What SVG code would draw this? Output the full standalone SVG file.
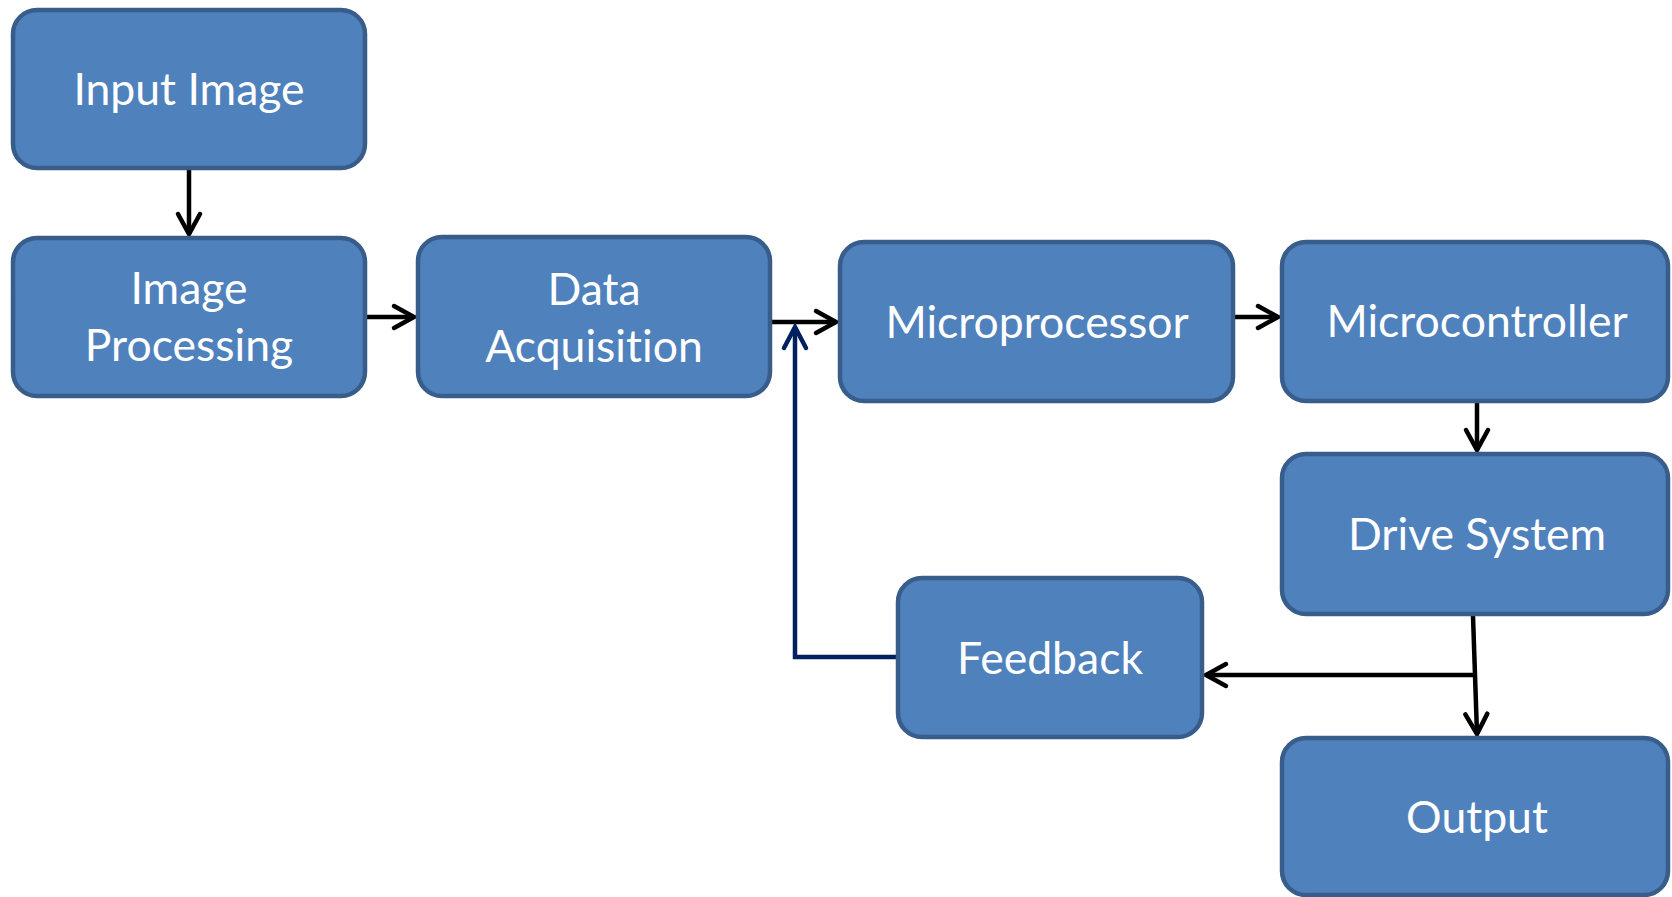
<svg xmlns="http://www.w3.org/2000/svg" width="1672" height="897" viewBox="0 0 1672 897">
<style>
.box{fill:#4F81BD;stroke:#385D8A;stroke-width:4.5}
.lbl{font-family:Lato,"Open Sans","Liberation Sans",sans-serif;font-size:44.5px;fill:#FFFFFF;text-anchor:middle;font-variant-ligatures:none;font-feature-settings:"liga" 0}
.con{fill:none;stroke:#000000;stroke-width:4.5}
.fb{fill:none;stroke:#002060;stroke-width:4.5;stroke-linejoin:miter}
</style>
<defs>
<marker id="ah" markerUnits="userSpaceOnUse" markerWidth="30" markerHeight="30" viewBox="-24 -15 30 30" refX="0" refY="0" orient="auto" overflow="visible">
<path d="M-20,-11 L0,0 L-20,11" fill="none" stroke="#000000" stroke-width="4.5" stroke-linecap="round" stroke-linejoin="miter"/>
</marker>
<marker id="ahn" markerUnits="userSpaceOnUse" markerWidth="30" markerHeight="30" viewBox="-24 -15 30 30" refX="0" refY="0" orient="auto" overflow="visible">
<path d="M-21,-11 L0,0 L-21,11" fill="none" stroke="#002060" stroke-width="4.5" stroke-linecap="round" stroke-linejoin="miter"/>
</marker>
</defs>
<g id="connectors">
<path class="con" d="M189,170 L189,234" marker-end="url(#ah)"/>
<path class="con" d="M367,317 L414,317" marker-end="url(#ah)"/>
<path class="con" d="M772,322 L836,322" marker-end="url(#ah)"/>
<path class="con" d="M1235,317 L1278,317" marker-end="url(#ah)"/>
<path class="con" d="M1477,403 L1477,450" marker-end="url(#ah)"/>
<path class="con" d="M1473,616 L1477,734" marker-end="url(#ah)"/>
<path class="con" d="M1475,675 L1206,675" marker-end="url(#ah)"/>
<path class="fb" d="M896,657 L795,657 L795,327" marker-end="url(#ahn)"/>
</g>
<g id="input-image">
<rect class="box" x="13" y="10" width="352" height="158" rx="24"/>
<text class="lbl" x="189" y="105">Input Image</text>
</g>
<g id="image-processing">
<rect class="box" x="13" y="238" width="352" height="158" rx="24"/>
<text class="lbl" x="189" y="304">Image</text>
<text class="lbl" x="189" y="361">Processing</text>
</g>
<g id="data-acquisition">
<rect class="box" x="418" y="237" width="352" height="159" rx="24"/>
<text class="lbl" x="594" y="305">Data</text>
<text class="lbl" x="594" y="362">Acquisition</text>
</g>
<g id="microprocessor">
<rect class="box" x="840" y="242" width="393" height="159" rx="24"/>
<text class="lbl" x="1037" y="338">Microprocessor</text>
</g>
<g id="microcontroller">
<rect class="box" x="1282" y="242" width="386" height="159" rx="24"/>
<text class="lbl" x="1477" y="337">Microcontroller</text>
</g>
<g id="drive-system">
<rect class="box" x="1282" y="454" width="386" height="160" rx="24"/>
<text class="lbl" x="1477" y="550">Drive System</text>
</g>
<g id="feedback">
<rect class="box" x="898" y="578" width="304" height="159" rx="24"/>
<text class="lbl" x="1050" y="674">Feedback</text>
</g>
<g id="output">
<rect class="box" x="1282" y="738" width="386" height="157" rx="24"/>
<text class="lbl" x="1477" y="833">Output</text>
</g>
</svg>
